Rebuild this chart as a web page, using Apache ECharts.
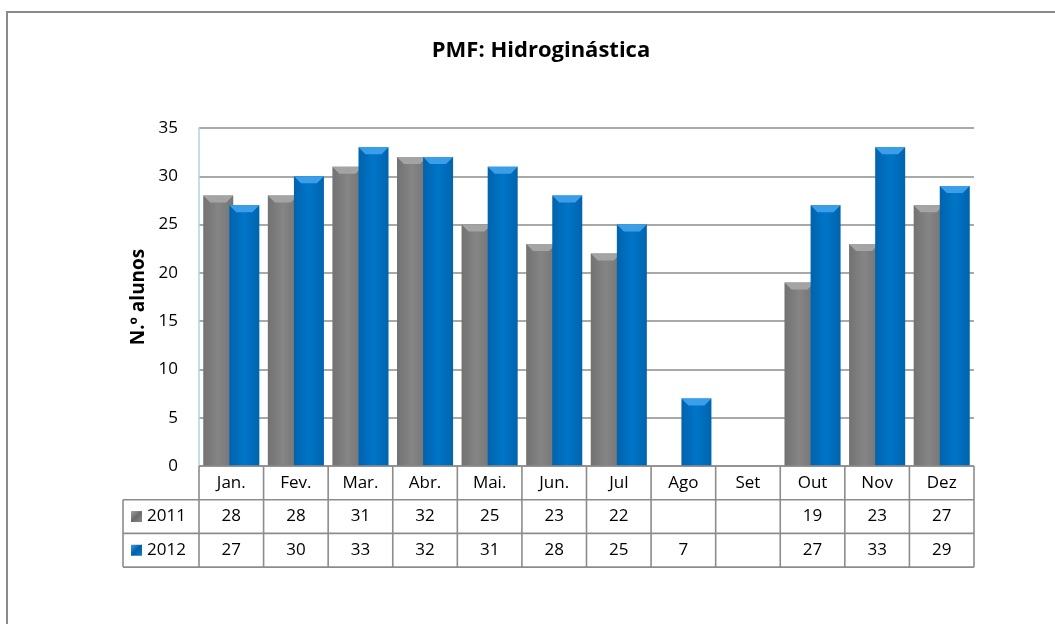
<!DOCTYPE html>
<html>
<head>
<meta charset="utf-8">
<script src="https://cdn.jsdelivr.net/npm/echarts@6/dist/echarts.min.js"></script>
<style>
html,body{margin:0;padding:0;background:#fff;}
#c{width:1055px;height:624px;}
</style>
</head>
<body>
<div id="c"></div>
<script>
const titleText = 'PMF: Hidroginástica';
const yAxisName = 'N.º alunos';
const categories = ['Jan.','Fev.','Mar.','Abr.','Mai.','Jun.','Jul','Ago','Set','Out','Nov','Dez'];
const seriesNames = ['2011','2012'];
const values2011 = [28,28,31,32,25,23,22,null,null,19,23,27];
const values2012 = [27,30,33,32,31,28,25,7,null,27,33,29];
const yMin = 0, yMax = 35, yStep = 5;

const FONT = '"Open Sans", "Liberation Sans", sans-serif';
const gridColor = '#8c8c8c';
const BAR_W = 30, GAP = -0.13;
const total = BAR_W * 2 + BAR_W * GAP;
const offsets = [-total / 2 + BAR_W / 2, -total / 2 + BAR_W + BAR_W * GAP + BAR_W / 2];

function grad(c1, c2, c3) {
  return new echarts.graphic.LinearGradient(0, 0, 1, 0, [
    {offset: 0, color: c1}, {offset: 0.5, color: c2}, {offset: 1, color: c3}
  ]);
}
const grayFill = grad('#727272', '#858585', '#747474');
const blueFill = grad('#0063ad', '#0075c8', '#0064ae');

function bevel(off, color) {
  return function (params, api) {
    const v = api.value(1);
    if (v == null || isNaN(v)) return null;
    const p = api.coord([api.value(0), v]);
    const x = p[0] + off, y = p[1], h = 7, hw = BAR_W / 2;
    return {
      type: 'polygon',
      shape: {points: [[x - hw, y], [x + hw, y], [x + hw - 7, y + h], [x - hw + 7, y + h]]},
      style: {fill: color}
    };
  };
}

const chart = echarts.init(document.getElementById('c'), null, {renderer: 'canvas'});
chart.setOption({
  animation: false,
  backgroundColor: '#fff',
  title: {
    text: titleText, left: 536, top: 35, textAlign: 'center',
    textStyle: {fontFamily: FONT, fontWeight: 'bold', fontSize: 22, color: '#000'}
  },
  grid: {left: 199, right: 81, top: 128, bottom: 158},
  xAxis: {
    type: 'category', data: categories,
    axisLine: {show: false}, axisTick: {show: false}, axisLabel: {show: false}, splitLine: {show: false}
  },
  yAxis: {
    type: 'value', min: yMin, max: yMax, interval: yStep,
    name: yAxisName, nameLocation: 'middle', nameGap: 45, nameRotate: 90,
    nameTextStyle: {fontFamily: FONT, fontWeight: 'bold', fontSize: 19, color: '#000'},
    axisLine: {show: true, lineStyle: {color: '#a9d4e4', width: 1.5}},
    axisTick: {show: false},
    axisLabel: {fontFamily: FONT, fontSize: 17, color: '#000', margin: 21},
    splitLine: {show: true, lineStyle: {color: gridColor, width: 1.5}}
  },
  series: [
    {name: seriesNames[0], type: 'bar', data: values2011, barWidth: BAR_W, barGap: (GAP * 100) + '%',
     itemStyle: {color: grayFill}, z: 2},
    {name: seriesNames[1], type: 'bar', data: values2012, barWidth: BAR_W,
     itemStyle: {color: blueFill}, z: 4},
    {type: 'custom', data: values2011.map((v, i) => [i, v]), renderItem: bevel(offsets[0], '#a4a4a4'),
     z: 3, silent: true, encode: {x: 0, y: 1}},
    {type: 'custom', data: values2012.map((v, i) => [i, v]), renderItem: bevel(offsets[1], '#3a9fe8'),
     z: 5, silent: true, encode: {x: 0, y: 1}}
  ]
});

const cx = categories.map((c, i) => chart.convertToPixel({xAxisIndex: 0}, i));
const step = cx[1] - cx[0];
const left = cx[0] - step / 2;
const right = cx[cx.length - 1] + step / 2;
const y0 = chart.convertToPixel({yAxisIndex: 0}, 0);
const rowH = 33.7;
const y1 = y0 + rowH, y2 = y0 + 2 * rowH, y3 = y0 + 3 * rowH;
const legLeft = 123;
const lineStyle = {stroke: gridColor, lineWidth: 1.6};
const els = [];
els.push({type: 'rect', shape: {x: 7, y: 12, width: 1200, height: 800}, style: {fill: null, stroke: '#8a8a8a', lineWidth: 2}, z: 0});
els.push({type: 'line', shape: {x1: left, y1: y0, x2: right, y2: y0}, style: lineStyle, z: 10});
[y1, y2, y3].forEach(y => els.push({type: 'line', shape: {x1: legLeft, y1: y, x2: right, y2: y}, style: lineStyle, z: 10}));
for (let i = 0; i <= categories.length; i++) {
  const x = left + i * step;
  els.push({type: 'line', shape: {x1: x, y1: y0, x2: x, y2: y3}, style: lineStyle, z: 10});
}
els.push({type: 'line', shape: {x1: legLeft, y1: y1, x2: legLeft, y2: y3}, style: lineStyle, z: 10});
const txt = (s, x, y) => ({type: 'text', x: x, y: y, style: {text: s, font: '17px ' + FONT, fill: '#000', align: 'center', verticalAlign: 'middle'}, z: 11});
categories.forEach((c, i) => {
  els.push(txt(c, cx[i], (y0 + y1) / 2));
  if (values2011[i] != null) els.push(txt(String(values2011[i]), cx[i], (y1 + y2) / 2));
  if (values2012[i] != null) els.push(txt(String(values2012[i]), cx[i], (y2 + y3) / 2));
});
const keyFills = [
  new echarts.graphic.LinearGradient(0, 0, 1, 1, [{offset: 0, color: '#a0a0a0'}, {offset: 0.5, color: '#6a6a6a'}, {offset: 1, color: '#8a8a8a'}]),
  new echarts.graphic.LinearGradient(0, 0, 1, 1, [{offset: 0, color: '#3d9be0'}, {offset: 0.5, color: '#005fa8'}, {offset: 1, color: '#0a7ccc'}])
];
seriesNames.forEach((n, k) => {
  const yc = (k === 0 ? (y1 + y2) / 2 : (y2 + y3) / 2);
  els.push({type: 'rect', shape: {x: 131, y: yc - 5.5, width: 11, height: 11}, style: {fill: keyFills[k]}, z: 11});
  els.push({type: 'text', x: 147, y: yc, style: {text: n, font: '17px ' + FONT, fill: '#000', align: 'left', verticalAlign: 'middle'}, z: 11});
});
chart.setOption({graphic: {elements: els}});
</script>
</body>
</html>
